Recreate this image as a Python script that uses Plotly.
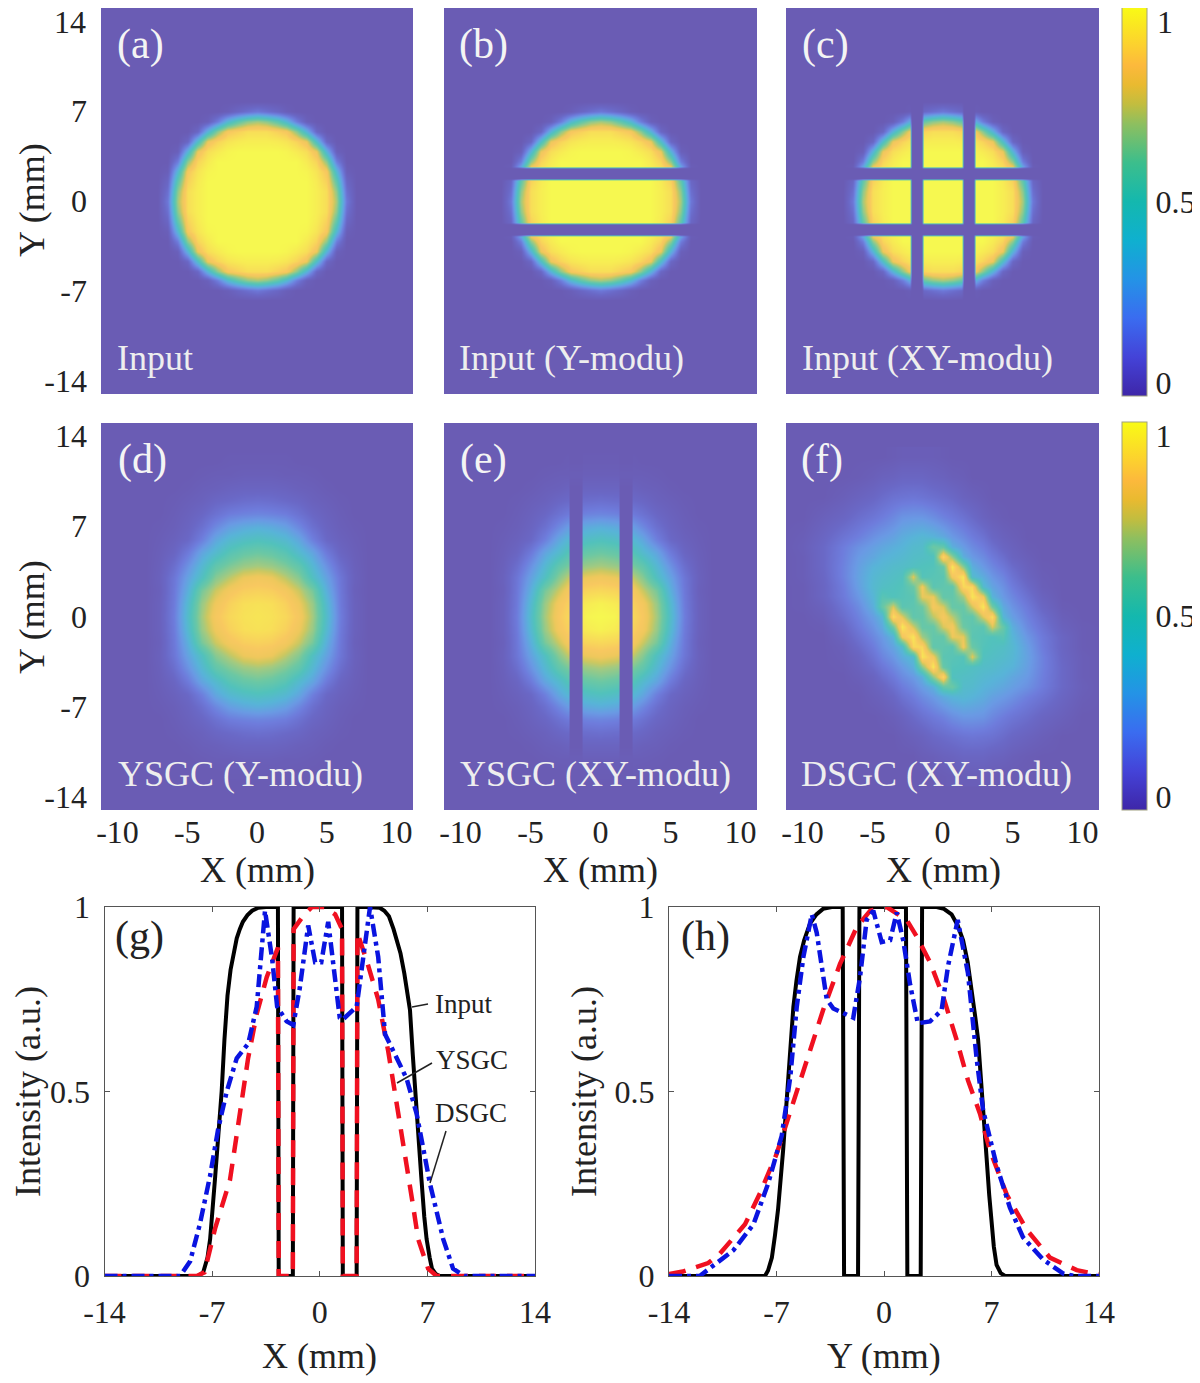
import plotly.graph_objects as go

# the page keeps the browser's 8 px body margin
PAGE_MARGIN = 8
FIG_W = 1200 - PAGE_MARGIN
FIG_H = 1383 - PAGE_MARGIN

# heatmap grids, only one quadrant is stored for the symmetric panels (values in percent)
a_x = [0, 0.71, 1.43, 2.14, 2.86, 3.57, 4.29, 5, 5.71, 6.43, 7.14]
a_y = [0, 0.78, 1.55, 2.33, 3.1, 3.88, 4.65, 5.43, 6.2, 6.98, 7.75]
a_z = [
    [100, 100, 100, 100, 100, 100, 97, 92, 70, 18, 0],
    [100, 100, 100, 100, 100, 100, 97, 92, 66, 14, 0],
    [100, 100, 100, 100, 100, 100, 96, 88, 56, 9, 0],
    [100, 100, 100, 100, 100, 99, 94, 84, 42, 3, 0],
    [100, 100, 100, 100, 100, 96, 89, 66, 20, 0, 0],
    [100, 100, 100, 99, 96, 92, 80, 40, 4, 0, 0],
    [97, 97, 96, 94, 89, 80, 46, 9, 0, 0, 0],
    [92, 92, 88, 84, 66, 40, 9, 0, 0, 0, 0],
    [70, 66, 56, 42, 20, 4, 0, 0, 0, 0, 0],
    [18, 14, 9, 3, 0, 0, 0, 0, 0, 0, 0],
    [0, 0, 0, 0, 0, 0, 0, 0, 0, 0, 0],
]

b_x = a_x
b_y = [0, 0.78, 1.63, 1.78, 2.56, 2.71, 3.1, 3.88, 4.65, 5.43, 6.2, 6.98, 7.75]
b_z = [
    [100, 100, 100, 100, 100, 100, 97, 92, 70, 18, 0],
    [100, 100, 100, 100, 100, 100, 97, 92, 66, 14, 0],
    [100, 100, 100, 100, 100, 100, 96, 88, 56, 9, 0],
    [0, 0, 0, 0, 0, 0, 0, 0, 0, 0, 0],
    [0, 0, 0, 0, 0, 0, 0, 0, 0, 0, 0],
    [100, 100, 100, 100, 100, 97, 92, 80, 33, 2, 0],
    [100, 100, 100, 100, 100, 96, 89, 66, 20, 0, 0],
    [100, 100, 100, 99, 96, 92, 80, 40, 4, 0, 0],
    [97, 97, 96, 94, 89, 80, 46, 9, 0, 0, 0],
    [92, 92, 88, 84, 66, 40, 9, 0, 0, 0, 0],
    [70, 66, 56, 42, 20, 4, 0, 0, 0, 0, 0],
    [18, 14, 9, 3, 0, 0, 0, 0, 0, 0, 0],
    [0, 0, 0, 0, 0, 0, 0, 0, 0, 0, 0],
]

c_x = [0, 0.71, 1.36, 1.5, 2.21, 2.36, 2.86, 3.57, 4.29, 5, 5.71, 6.43, 7.14]
c_y = b_y
c_z = [
    [100, 100, 100, 0, 0, 100, 100, 100, 97, 92, 70, 18, 0],
    [100, 100, 100, 0, 0, 100, 100, 100, 97, 92, 66, 14, 0],
    [100, 100, 100, 0, 0, 100, 100, 100, 96, 88, 56, 9, 0],
    [0, 0, 0, 0, 0, 0, 0, 0, 0, 0, 0, 0, 0],
    [0, 0, 0, 0, 0, 0, 0, 0, 0, 0, 0, 0, 0],
    [100, 100, 100, 0, 0, 100, 100, 97, 92, 80, 33, 2, 0],
    [100, 100, 100, 0, 0, 100, 100, 96, 89, 66, 20, 0, 0],
    [100, 100, 100, 0, 0, 98, 96, 92, 80, 40, 4, 0, 0],
    [97, 97, 96, 0, 0, 93, 89, 80, 46, 9, 0, 0, 0],
    [92, 92, 89, 0, 0, 82, 66, 40, 9, 0, 0, 0, 0],
    [70, 66, 58, 0, 0, 37, 20, 4, 0, 0, 0, 0, 0],
    [18, 14, 10, 0, 0, 2, 0, 0, 0, 0, 0, 0, 0],
    [0, 0, 0, 0, 0, 0, 0, 0, 0, 0, 0, 0, 0],
]

d_x = [0, 1, 2, 3, 4, 5, 6, 7, 8]
d_y = [0, 1, 2, 3, 4, 5, 6, 7, 8, 9, 10, 11, 12, 13]
d_z = [
    [94, 93, 90, 84, 70, 45, 20, 5, 0],
    [93, 92, 88, 81, 68, 43, 19, 5, 0],
    [88, 87, 83, 75, 62, 38, 18, 4, 0],
    [82, 80, 73, 65, 48, 33, 17, 5, 0],
    [70, 68, 63, 56, 42, 27, 13, 4, 0],
    [60, 58, 53, 44, 34, 19, 8, 3, 0],
    [49, 47, 43, 35, 21, 10, 5, 2, 0],
    [38, 36, 32, 24, 14, 7, 3, 1, 0],
    [23, 22, 20, 15, 9, 5, 2, 0, 0],
    [14, 13, 11, 9, 5, 3, 1, 0, 0],
    [7, 7, 6, 4, 3, 1, 0, 0, 0],
    [3, 3, 2, 2, 1, 0, 0, 0, 0],
    [1, 1, 1, 0, 0, 0, 0, 0, 0],
    [0, 0, 0, 0, 0, 0, 0, 0, 0],
]

e_x = [0, 1, 1.28, 1.36, 2.21, 2.3, 3, 4, 5, 6, 7, 8]
e_y = d_y
e_z = [
    [100, 99, 97, 0, 0, 90, 85, 70, 45, 20, 5, 0],
    [98, 96, 95, 0, 0, 88, 83, 68, 43, 19, 5, 0],
    [90, 89, 88, 0, 0, 84, 75, 62, 38, 18, 4, 0],
    [82, 80, 79, 0, 0, 74, 65, 48, 33, 17, 5, 0],
    [70, 68, 67, 0, 0, 62, 56, 42, 27, 13, 4, 0],
    [60, 58, 57, 0, 0, 52, 44, 34, 19, 8, 3, 0],
    [49, 47, 46, 0, 0, 42, 35, 21, 10, 5, 2, 0],
    [38, 36, 35, 0, 0, 31, 24, 14, 7, 3, 1, 0],
    [23, 22, 21, 0, 0, 19, 15, 9, 5, 2, 0, 0],
    [14, 13, 13, 0, 0, 11, 9, 5, 3, 1, 0, 0],
    [7, 7, 7, 0, 0, 6, 4, 3, 1, 0, 0, 0],
    [3, 3, 3, 2, 2, 2, 2, 1, 0, 0, 0, 0],
    [1, 1, 1, 0, 0, 1, 0, 0, 0, 0, 0, 0],
    [0, 0, 0, 0, 0, 0, 0, 0, 0, 0, 0, 0],
]

# panel f is point symmetric, rows below the centre are stored (first row is y=0)
f_x = [0, 0.71, 1.43, 2.14, 2.86, 3.57, 4.29, 5, 6.07, 7.14, 8.57, 10, 11.43]
f_y = [0, 0.78, 1.55, 2.33, 3.1, 3.88, 4.65, 5.43, 6.2, 7.75, 9.3, 10.85, 12.4]
f_z = [
    [0, 0, 3, 13, 22, 32, 41, 92, 78, 56, 57, 73, 84, 73, 57, 56, 78, 92, 41, 32, 22, 13, 3, 0, 0],
    [0, 0, 1, 9, 19, 28, 36, 61, 95, 76, 58, 58, 77, 83, 60, 55, 54, 77, 58, 38, 25, 16, 5, 1, 0],
    [0, 0, 0, 6, 15, 24, 30, 40, 82, 94, 69, 57, 57, 80, 79, 54, 52, 50, 53, 41, 29, 19, 8, 1, 0],
    [0, 0, 0, 3, 11, 20, 27, 34, 44, 90, 90, 56, 56, 54, 82, 59, 51, 49, 47, 43, 32, 20, 8, 1, 0],
    [0, 0, 0, 2, 7, 16, 23, 29, 37, 44, 94, 82, 54, 53, 51, 78, 49, 47, 45, 42, 33, 22, 9, 2, 0],
    [0, 0, 0, 1, 5, 12, 18, 24, 30, 38, 66, 95, 58, 51, 50, 48, 46, 45, 42, 40, 32, 22, 10, 2, 0],
    [0, 0, 0, 0, 3, 7, 13, 19, 25, 30, 38, 67, 91, 49, 47, 46, 43, 41, 39, 35, 30, 21, 10, 2, 0],
    [0, 0, 0, 0, 1, 5, 8, 14, 20, 25, 31, 38, 57, 60, 45, 44, 40, 38, 35, 32, 27, 20, 10, 3, 0],
    [0, 0, 0, 0, 0, 3, 5, 9, 15, 20, 25, 30, 36, 40, 42, 40, 37, 33, 30, 27, 21, 16, 8, 2, 0],
    [0, 0, 0, 0, 0, 0, 1, 3, 6, 11, 15, 19, 22, 26, 29, 29, 28, 24, 20, 17, 13, 8, 4, 0, 0],
    [0, 0, 0, 0, 0, 0, 0, 0, 2, 4, 6, 10, 12, 14, 16, 17, 16, 15, 12, 9, 6, 3, 0, 0, 0],
    [0, 0, 0, 0, 0, 0, 0, 0, 0, 0, 2, 3, 5, 6, 8, 8, 8, 6, 5, 3, 1, 0, 0, 0, 0],
    [0, 0, 0, 0, 0, 0, 0, 0, 0, 0, 0, 0, 1, 2, 2, 2, 2, 1, 0, 0, 0, 0, 0, 0, 0],
]

# line cuts, panel g
g_input_x = [-14, -7.9, -7.58, -7.3, -7.13, -6.95, -6.8, -6.6, -6.38, -6.2, -6.0, -5.8, -5.6, -5.4, -5.2, -5, -4.7, -4.4, -4,
             -3.5, -2.72, -2.67, -1.75, -1.7, 1.45, 1.5, 2.4, 2.45, 3, 3.9, 4.2, 4.5, 4.8, 5, 5.25, 5.5, 5.7, 5.87, 6.05, 6.2,
             6.4, 6.6, 6.8, 6.95, 7.15, 7.3, 7.55, 7.8, 14]
g_input_y = [0, 0, 0.01, 0.05, 0.1, 0.18, 0.27, 0.38, 0.5, 0.64, 0.76, 0.83, 0.88, 0.915, 0.94, 0.96, 0.978, 0.99, 0.998,
             1, 1, 0, 0, 1, 1, 0, 0, 1, 1, 0.998, 0.99, 0.975, 0.94, 0.91, 0.875, 0.82, 0.77, 0.72, 0.6, 0.5,
             0.38, 0.27, 0.16, 0.1, 0.05, 0.02, 0.005, 0, 0]
g_ysgc_x = [-14, -8, -7.5, -6.8, -5.84, -5.4, -5, -4.66, -4.1, -3.45, -2.72, -2.67, -1.75, -1.7, -1, -0.5, 0.3, 1,
            1.45, 1.5, 2.4, 2.45, 3.05, 3.8, 4.45, 4.9, 5.3, 5.65, 6.07, 6.4, 7.05, 7.6, 14]
g_ysgc_y = [0, 0, 0.01, 0.13, 0.26, 0.38, 0.49, 0.59, 0.71, 0.81, 0.89, 0, 0, 0.94, 0.98, 1, 1, 0.98,
            0.94, 0, 0, 0.93, 0.855, 0.75, 0.61, 0.5, 0.4, 0.3, 0.19, 0.1, 0.02, 0, 0]
g_dsgc_x = [-14, -9.08, -8.43, -7.8, -7.14, -6.6, -6.05, -5.4, -4.65, -4.1, -3.56, -3.1, -2.77, -2.15, -1.72, -1.3,
            -0.75, -0.3, 0.1, 0.55, 1.3, 1.5, 2.4, 3.27, 3.8, 4.25, 4.9, 5.65, 6.3, 7.17, 8.03, 8.67, 9.4, 14]
g_dsgc_y = [0, 0, 0.04, 0.14, 0.27, 0.4, 0.5, 0.59, 0.63, 0.73, 0.99, 0.86, 0.73, 0.69, 0.68, 0.78,
            0.95, 0.85, 0.85, 0.96, 0.7, 0.695, 0.73, 1, 0.865, 0.655, 0.6, 0.535, 0.44, 0.25, 0.1, 0.02, 0, 0]

# line cuts, panel h
h_input_x = [-14, -7.75, -7.55, -7.3, -7.1, -6.9, -6.57, -6.24, -6.05, -5.9, -5.7, -5.47, -5.2, -4.82, -4.4, -3.97, -3.4,
             -2.69, -2.6, -1.69, -1.6, 1.43, 1.52, 2.39, 2.48, 3.43, 3.9, 4.4, 4.8, 5.15, 5.45, 5.7, 5.95, 6.13, 6.3, 6.45,
             6.68, 6.85, 7, 7.15, 7.33, 7.6, 7.88, 14]
h_input_y = [0, 0, 0.015, 0.05, 0.11, 0.18, 0.34, 0.53, 0.65, 0.73, 0.8, 0.865, 0.91, 0.955, 0.98, 0.995, 1,
             1, 0, 0, 1, 1, 0, 0, 1, 1, 0.995, 0.98, 0.95, 0.91, 0.85, 0.78, 0.7, 0.64, 0.55, 0.47,
             0.32, 0.22, 0.14, 0.08, 0.03, 0.008, 0, 0]
h_ysgc_x = [-14, -13.1, -11.45, -10.7, -9.05, -8.07, -7, -6.23, -5.25, -4.6, -3.97, -2.87, -1.78, -0.9, 0.18, 1.48,
            2.13, 3, 3.87, 4.73, 5.47, 6.25, 6.9, 8, 9.3, 10.8, 12.55, 13.6, 14]
h_ysgc_y = [0.005, 0.012, 0.035, 0.06, 0.14, 0.225, 0.33, 0.43, 0.55, 0.64, 0.72, 0.845, 0.945, 0.99, 1, 0.965,
            0.92, 0.85, 0.755, 0.64, 0.53, 0.44, 0.34, 0.22, 0.125, 0.05, 0.016, 0.007, 0.005]
h_dsgc_x = [-14, -12, -10.9, -9.8, -8.5, -7.55, -6.66, -6.1, -5.68, -5.25, -4.7, -4.38, -3.73, -3.3, -2, -1.56, -1.13,
            -0.7, -0.15, 0.4, 0.83, 1.25, 1.7, 2.2, 3, 3.75, 4.17, 4.8, 5.47, 6.03, 6.45, 7.33, 8.2, 9.05, 10.35, 11.65, 12.4, 14]
h_dsgc_y = [0, 0, 0.035, 0.07, 0.14, 0.25, 0.38, 0.54, 0.73, 0.865, 0.98, 0.93, 0.75, 0.725, 0.7, 0.81, 0.965,
            0.99, 0.905, 0.91, 0.985, 0.91, 0.79, 0.685, 0.69, 0.72, 0.84, 0.965, 0.82, 0.59, 0.45, 0.3, 0.185, 0.105, 0.045, 0.007, 0, 0]

# colours: the bars use parula, the maps look washed out by a fine white mesh
parula = [[0, '#3e26a8'], [0.1, '#4443d8'], [0.2, '#3a6cf0'], [0.3, '#2493e6'], [0.4, '#0fb0cf'], [0.5, '#14b8ae'],
          [0.6, '#3cbe8c'], [0.7, '#8ebf5f'], [0.75, '#c2bd3f'], [0.8, '#e9ba30'], [0.85, '#fcb93c'], [0.9, '#fcd02f'], [1, '#f9fb15']]
washed = [[0, '#6a5cb4'], [0.1, '#6a68c6'], [0.2, '#6e7cdc'], [0.3, '#6a9ae4'], [0.4, '#58b4d8'], [0.5, '#52c2bc'],
          [0.6, '#6cc8a4'], [0.7, '#a4ca80'], [0.75, '#cdc860'], [0.8, '#eec85c'], [0.85, '#f8c860'], [0.9, '#f8d85a'], [1, '#f6f850']]

SERIF = 'Liberation Serif'
TEXT = '#222222'


def px_x(px):
    return (px - PAGE_MARGIN) / FIG_W


def px_y(py):
    return 1 - (py - PAGE_MARGIN) / FIG_H


def mirror(half):
    return [-v for v in half[:0:-1]] + list(half)


def mirror_rows(rows):
    rows = [r[:0:-1] + r for r in rows]
    return rows[:0:-1] + rows


def pct(rows):
    return [[v / 100 for v in r] for r in rows]


fig = go.Figure()

panels = [
    ('', a_x, a_y, a_z, 101, 413, 8, 394, '(a)', 'Input', 115),
    ('2', b_x, b_y, b_z, 444, 757, 8, 394, '(b)', 'Input (Y-modu)', 457),
    ('3', c_x, c_y, c_z, 786, 1099, 8, 394, '(c)', 'Input (XY-modu)', 800),
    ('4', d_x, d_y, d_z, 101, 413, 423, 810, '(d)', 'YSGC (Y-modu)', 116),
    ('5', e_x, e_y, e_z, 444, 757, 423, 810, '(e)', 'YSGC (XY-modu)', 458),
    ('6', None, None, None, 786, 1099, 423, 810, '(f)', 'DSGC (XY-modu)', 799),
]

annotations = []
shapes = []
layout = {}
for i, (n, hx, hy, hz, x0, x1, y0, y1, tag, caption, cap_x) in enumerate(panels):
    if hz is None:
        x = mirror(f_x)
        y = mirror(f_y)
        z = f_z[:0:-1] + [r[::-1] for r in f_z]
    else:
        x = mirror(hx)
        y = mirror(hy)
        z = mirror_rows(hz)
    fig.add_trace(go.Heatmap(x=x, y=y, z=pct(z), xaxis='x' + n, yaxis='y' + n, zmin=0, zmax=1, zsmooth='best',
                             colorscale=washed, showscale=False))
    y_ticks = []
    if i == 0:
        # the top 14 would stick out of the page, it is added as an annotation below
        y_ticks = [-14, -7, 0, 7]
    elif i == 3:
        y_ticks = [-14, -7, 0, 7, 14]
    layout['xaxis' + n] = dict(
        domain=[px_x(x0), px_x(x1)], range=[-11.18, 11.18], anchor='y' + n, showgrid=False, zeroline=False,
        tickvals=[-10, -5, 0, 5, 10] if i >= 3 else [], ticktext=['-10', '-5', '0', '5', '10'] if i >= 3 else [],
        ticks='', ticklabelstandoff=0, tickfont=dict(family=SERIF, size=32, color=TEXT))
    layout['yaxis' + n] = dict(
        domain=[px_y(y1), px_y(y0)], range=[-15, 15], anchor='x' + n, showgrid=False, zeroline=False,
        tickvals=y_ticks, ticktext=[str(v) for v in y_ticks],
        ticks='', ticklabelstandoff=13, tickfont=dict(family=SERIF, size=32, color=TEXT))
    # the map background is the zero colour all over the panel
    shapes.append(dict(type='rect', xref='x' + n + ' domain', yref='y' + n + ' domain', x0=0, x1=1, y0=0, y1=1,
                       fillcolor='#6a5cb4', line=dict(width=0), layer='below'))
    annotations.append(dict(x=px_x(cap_x), y=px_y(y0 + 36), text=tag, font=dict(family=SERIF, size=42, color='#f4f4f4')))
    annotations.append(dict(x=px_x(cap_x), y=px_y(y1 - 36), text=caption, font=dict(family=SERIF, size=36, color='#eeeeee')))

annotations.append(dict(x=px_x(88), y=px_y(22), text='14', xanchor='right', font=dict(family=SERIF, size=32, color=TEXT)))
annotations.append(dict(x=px_x(1155), y=px_y(22), text='1', font=dict(family=SERIF, size=32, color=TEXT)))

# colour bars
for (top, bottom, bar_ticks, bar_text) in [(7, 396, [0.035, 0.5], ['0', '0.5']),
                                           (422, 810, [0.035, 0.5, 0.965], ['0', '0.5', '1'])]:
    fig.add_trace(go.Scatter(
        x=[None], y=[None], mode='markers', xaxis='x', yaxis='y', showlegend=False,
        marker=dict(color=[0], cmin=0, cmax=1, colorscale=parula, showscale=True, colorbar=dict(
            x=px_x(1122), xanchor='left', y=px_y(top), yanchor='top', len=(bottom - top) / FIG_H, lenmode='fraction',
            thickness=25, xpad=0, ypad=0, outlinecolor='#a0a080', outlinewidth=1,
            tickvals=bar_ticks, ticktext=bar_text, ticks='outside', ticklen=2,
            tickcolor='rgba(0,0,0,0)', tickfont=dict(family=SERIF, size=32, color=TEXT)))))

# line panels
line_axes = {
    '7': (104.5, 535, [(g_input_x, g_input_y), (g_ysgc_x, g_ysgc_y), (g_dsgc_x, g_dsgc_y)]),
    '8': (669, 1099, [(h_input_x, h_input_y), (h_ysgc_x, h_ysgc_y), (h_dsgc_x, h_dsgc_y)]),
}
styles = [dict(color='black', width=4),
          dict(color='#f01020', width=4.5, dash='17px,11px'),
          dict(color='#0a14e0', width=4.5, dash='13px,5px,4px,5px')]
names = ['Input', 'YSGC', 'DSGC']
for n, (x0, x1, series) in line_axes.items():
    for (sx, sy), style, name in zip(series, styles, names):
        fig.add_trace(go.Scatter(x=sx, y=sy, mode='lines', name=name, line=style, xaxis='x' + n, yaxis='y' + n,
                                 showlegend=False))
    layout['xaxis' + n] = dict(
        domain=[px_x(x0), px_x(x1)], range=[-14, 14], anchor='y' + n, showgrid=False, zeroline=False,
        tickvals=[-14, -7, 0, 7, 14], ticktext=['-14', '-7', '0', '7', '14'], ticks='inside', ticklen=5, tickcolor='#555',
        showline=True, linecolor='#555', linewidth=1, mirror='allticks', ticklabelstandoff=8,
        tickfont=dict(family=SERIF, size=32, color=TEXT))
    layout['yaxis' + n] = dict(
        domain=[px_y(1276), px_y(907)], range=[0, 1], anchor='x' + n, showgrid=False, zeroline=False,
        tickvals=[0, 0.5, 1], ticktext=['0', '0.5', '1'], ticks='inside', ticklen=5, tickcolor='#555',
        showline=True, linecolor='#555', linewidth=1, mirror='allticks', ticklabelstandoff=7,
        tickfont=dict(family=SERIF, size=32, color=TEXT))

# axis titles
axis_titles = [
    ('Y (mm)', 32, 200, -90), ('Y (mm)', 32, 617, -90),
    ('X (mm)', 257, 870, 0), ('X (mm)', 600, 870, 0), ('X (mm)', 943, 870, 0),
    ('Intensity (a.u.)', 28, 1092, -90), ('Intensity (a.u.)', 584, 1092, -90),
    ('X (mm)', 319, 1356, 0), ('Y (mm)', 884, 1356, 0),
]
for text, px, py, angle in axis_titles:
    annotations.append(dict(x=px_x(px), y=px_y(py), text=text, textangle=angle, xanchor='center',
                            font=dict(family=SERIF, size=36, color=TEXT)))

# tags and labels in the line panels
for text, px, py, size in [('(g)', 113, 937, 42), ('(h)', 679, 937, 42),
                           ('Input', 433, 1004, 27), ('YSGC', 434, 1060, 27), ('DSGC', 433, 1113, 27)]:
    annotations.append(dict(x=px_x(px), y=px_y(py), text=text, font=dict(family=SERIF, size=size, color=TEXT)))

leaders = [(412, 1007, 428, 1004), (397, 1083, 432, 1063), (430, 1183, 446, 1131)]
for a, b, c, d in leaders:
    shapes.append(dict(type='line', xref='paper', yref='paper', x0=px_x(a), y0=px_y(b), x1=px_x(c), y1=px_y(d),
                       line=dict(color=TEXT, width=1.5)))

for ann in annotations:
    ann.setdefault('xanchor', 'left')
    ann.update(xref='paper', yref='paper', showarrow=False, yanchor='middle')

fig.update_layout(
    template='none', width=FIG_W, height=FIG_H, margin=dict(l=0, r=0, t=0, b=0, autoexpand=False),
    paper_bgcolor='white', plot_bgcolor='white', showlegend=False, annotations=annotations, shapes=shapes, **layout)

fig.write_html("out.html")
